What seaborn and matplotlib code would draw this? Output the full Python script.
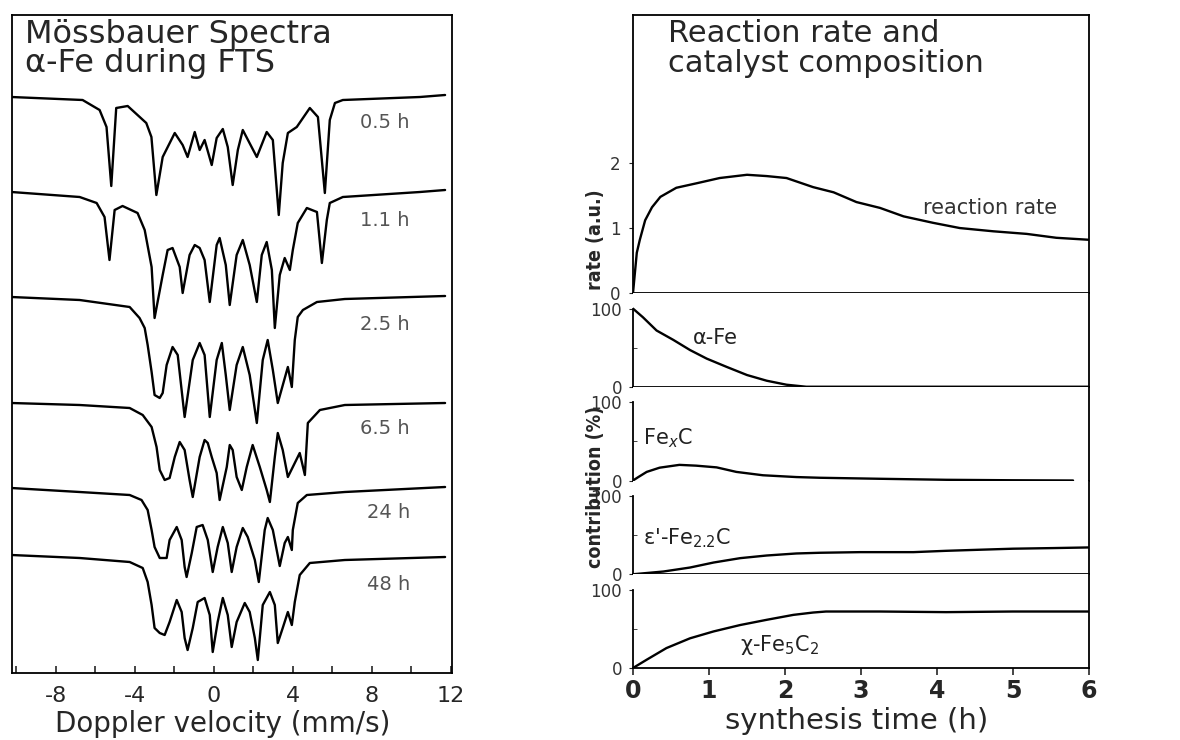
import matplotlib
matplotlib.use("Agg")
import matplotlib.pyplot as plt
import seaborn as sns
from matplotlib import font_manager
from matplotlib.ticker import FixedLocator

sns.set_style("ticks")
plt.rcParams["font.family"] = ["DejaVu Sans"]

# ---------------- Mössbauer spectra (velocity mm/s, transmission a.u. incl. offset)
spec_05h = [(-10.23, 576), (-6.63, 573), (-5.77, 563), (-5.42, 546), (-5.18, 487), (-4.93, 565),
            (-4.35, 567), (-3.41, 550), (-3.15, 536), (-2.90, 478), (-2.58, 516), (-1.97, 540),
            (-1.57, 528), (-1.32, 516), (-0.96, 541), (-0.71, 523), (-0.46, 533), (-0.10, 508),
            (0.15, 535), (0.46, 544), (0.71, 526), (0.96, 488), (1.22, 523), (1.47, 543),
            (2.18, 516), (2.68, 541), (2.99, 533), (3.29, 458), (3.49, 510), (3.75, 540),
            (4.20, 546), (4.86, 565), (5.27, 556), (5.62, 480), (5.87, 553), (6.13, 570),
            (6.53, 573), (10.43, 576), (11.70, 578)]
spec_11h = [(-10.23, 481), (-6.78, 476), (-5.92, 470), (-5.52, 456), (-5.27, 413), (-5.01, 463),
            (-4.61, 467), (-3.85, 460), (-3.49, 443), (-3.14, 406), (-2.99, 355), (-2.58, 398),
            (-2.33, 423), (-2.08, 425), (-1.72, 406), (-1.57, 380), (-1.22, 418), (-0.96, 428),
            (-0.71, 425), (-0.46, 413), (-0.20, 371), (0.15, 428), (0.30, 435), (0.61, 408),
            (0.81, 368), (1.16, 418), (1.47, 433), (1.82, 408), (2.18, 371), (2.43, 418),
            (2.68, 431), (2.94, 403), (3.09, 345), (3.34, 398), (3.59, 415), (3.85, 403),
            (4.00, 423), (4.25, 450), (4.71, 465), (5.22, 461), (5.47, 410), (5.72, 453),
            (5.87, 470), (6.53, 476), (10.43, 481), (11.70, 483)]
spec_25h = [(-10.23, 376), (-6.78, 373), (-4.25, 366), (-3.75, 355), (-3.49, 345), (-3.34, 328),
            (-3.14, 301), (-2.99, 278), (-2.73, 275), (-2.58, 280), (-2.38, 308), (-2.08, 326),
            (-1.82, 318), (-1.47, 256), (-1.06, 313), (-0.71, 330), (-0.46, 318), (-0.20, 256),
            (0.15, 313), (0.41, 330), (0.61, 298), (0.81, 263), (1.16, 308), (1.47, 326),
            (1.82, 298), (2.18, 250), (2.48, 313), (2.73, 333), (2.99, 303), (3.24, 270),
            (3.75, 306), (3.95, 286), (4.10, 333), (4.25, 356), (4.51, 363), (5.22, 371),
            (6.63, 374), (11.70, 377)]
spec_65h = [(-10.23, 270), (-6.78, 268), (-4.25, 265), (-3.59, 258), (-3.14, 246), (-2.89, 226),
            (-2.73, 203), (-2.48, 193), (-2.23, 195), (-1.97, 216), (-1.72, 231), (-1.47, 223),
            (-1.22, 193), (-1.06, 176), (-0.71, 216), (-0.46, 233), (-0.30, 230), (-0.10, 216),
            (0.15, 200), (0.30, 173), (0.66, 206), (0.81, 228), (0.96, 223), (1.16, 196),
            (1.42, 183), (1.67, 206), (1.97, 228), (2.33, 206), (2.68, 183), (2.84, 171),
            (3.09, 216), (3.24, 240), (3.49, 223), (3.75, 196), (4.00, 206), (4.35, 220),
            (4.61, 198), (4.76, 250), (5.37, 263), (6.63, 268), (11.70, 270)]
spec_24h = [(-10.23, 185), (-6.78, 181), (-4.25, 178), (-3.65, 173), (-3.34, 163), (-3.14, 143),
            (-2.99, 126), (-2.73, 115), (-2.38, 115), (-2.23, 133), (-1.87, 146), (-1.62, 133),
            (-1.47, 106), (-1.37, 96), (-1.11, 120), (-0.86, 146), (-0.56, 148), (-0.30, 133),
            (-0.05, 101), (0.20, 126), (0.46, 146), (0.71, 130), (0.91, 101), (1.16, 126),
            (1.47, 145), (1.72, 136), (2.08, 113), (2.28, 91), (2.58, 143), (2.73, 155),
            (2.99, 143), (3.34, 107), (3.59, 130), (3.75, 136), (3.95, 123), (4.00, 143),
            (4.25, 170), (4.71, 178), (6.63, 181), (11.70, 186)]
spec_48h = [(-10.23, 118), (-6.78, 115), (-4.25, 111), (-3.59, 105), (-3.34, 91), (-3.14, 68),
            (-2.99, 45), (-2.73, 40), (-2.48, 38), (-2.23, 51), (-1.87, 73), (-1.62, 61),
            (-1.47, 35), (-1.32, 23), (-1.06, 45), (-0.81, 71), (-0.46, 75), (-0.20, 58),
            (-0.05, 21), (0.20, 51), (0.46, 75), (0.71, 58), (0.91, 26), (1.16, 51),
            (1.57, 70), (1.82, 61), (2.08, 35), (2.23, 13), (2.48, 68), (2.84, 81),
            (3.09, 68), (3.24, 30), (3.49, 45), (3.75, 61), (3.95, 48), (4.10, 71),
            (4.35, 98), (4.86, 110), (6.63, 113), (11.70, 116)]
spectra = [spec_05h, spec_11h, spec_25h, spec_65h, spec_24h, spec_48h]
spec_labels = ["0.5 h", "1.1 h", "2.5 h", "6.5 h", "24 h", "48 h"]
spec_label_y = [551, 453, 349, 245, 160, 88]
vel_ticks = [-8, -4, 0, 4, 8, 12]

# ---------------- Reaction rate and composition vs synthesis time (h)
rate_t = [0, 0.05, 0.09, 0.16, 0.25, 0.36, 0.57, 0.84, 1.14, 1.50, 1.76, 2.02, 2.37, 2.64,
          2.94, 3.25, 3.56, 3.95, 4.30, 4.74, 5.18, 5.57, 5.99]
rate_v = [0, 0.62, 0.82, 1.12, 1.32, 1.48, 1.62, 1.69, 1.77, 1.82, 1.80, 1.77, 1.63, 1.55,
          1.40, 1.31, 1.18, 1.08, 1.00, 0.95, 0.91, 0.85, 0.82]
afe_t = [0, 0.13, 0.31, 0.53, 0.75, 0.97, 1.23, 1.50, 1.76, 2.02, 2.28, 6.0]
afe_v = [100, 89, 72, 60, 47, 36, 25.5, 15, 7.7, 2.6, 0, 0]
fexc_t = [0, 0.07, 0.18, 0.35, 0.61, 0.83, 1.10, 1.36, 1.71, 2.15, 2.46, 3.25, 4.12, 5.0, 5.79]
fexc_v = [0, 4.4, 11, 16.4, 20, 19, 16.8, 11, 6.7, 4.4, 3.5, 2.2, 0.9, 0.3, 0]
eps_t = [0, 0.40, 0.75, 1.06, 1.41, 1.76, 2.15, 2.46, 2.99, 3.69, 4.12, 4.57, 5.0, 5.53, 5.99]
eps_v = [0, 3.5, 8.6, 15, 20.6, 24, 26.6, 27.5, 28.3, 28.3, 30, 31.4, 32.7, 33.5, 34.3]
chi_t = [0, 0.18, 0.44, 0.75, 1.06, 1.41, 1.76, 2.11, 2.37, 2.54, 3.25, 4.12, 5.0, 5.99]
chi_v = [0, 10.6, 25.5, 38, 46.8, 55, 61.7, 68, 71, 72.3, 72.3, 71.5, 72.3, 72.3]
time_ticks = [0, 1, 2, 3, 4, 5, 6]
comp_series = [(afe_t, afe_v, r"α-Fe", 0.79, 63),
               (fexc_t, fexc_v, r"Fe$_x$C", 0.13, 54),
               (eps_t, eps_v, r"ε'-Fe$_{2.2}$C", 0.13, 46),
               (chi_t, chi_v, r"χ-Fe$_5$C$_2$", 1.41, 30)]

# ---------------- figure
W, H = 1180, 740
fig = plt.figure(figsize=(W / 100, H / 100), dpi=100)
LW = 1.7
SP = 1.3

# Left panel
axL = fig.add_axes([12 / W, 1 - 673 / H, 440 / W, 658 / H])
for spec, lab, ly in zip(spectra, spec_labels, spec_label_y):
    xs = [p[0] for p in spec]
    ys = [p[1] for p in spec]
    sns.lineplot(x=xs, y=ys, ax=axL, color="black", lw=LW, sort=False, estimator=None)
    axL.text(9.92, ly, lab, ha="right", va="center", fontsize=14, color="#555555")
axL.set_xlim(-10.2, 12.05)
axL.set_ylim(0, 658)
axL.set_yticks([])
axL.set_xticks(vel_ticks)
axL.set_xticklabels([str(t) for t in vel_ticks])
axL.xaxis.set_minor_locator(FixedLocator(list(range(-10, 13, 2))))
axL.tick_params(axis="x", which="both", direction="in", length=5, width=1.2,
                labelsize=16, pad=9, top=False)
for s in axL.spines.values():
    s.set_visible(True)
    s.set_linewidth(SP)
    s.set_color("black")
axL.text(13 / 440, (673 - 43) / 658, "Mössbauer Spectra", transform=axL.transAxes,
         fontsize=23, va="baseline", ha="left")
axL.text(13 / 440, (673 - 72) / 658, "α-Fe during FTS", transform=axL.transAxes,
         fontsize=23, va="baseline", ha="left")
fig.text(223 / W, 1 - 724 / H, "Doppler velocity (mm/s)", ha="center", va="center", fontsize=20)

# Right: rate panel
X0, XW = 633, 456
axR = fig.add_axes([X0 / W, 1 - 293 / H, XW / W, 278 / H])
sns.lineplot(x=rate_t, y=rate_v, ax=axR, color="black", lw=LW, sort=False, estimator=None)
axR.set_xlim(0, 6)
axR.set_ylim(0, 4.28)
axR.set_yticks([0, 1, 2])
axR.set_yticklabels(["0", "1", "2"])
axR.tick_params(axis="y", direction="out", length=3, labelsize=12, pad=6, labelcolor="#333333")
axR.tick_params(axis="x", bottom=False, labelbottom=False)
for s in axR.spines.values():
    s.set_visible(True)
    s.set_linewidth(SP)
    s.set_color("black")
axR.text(3.82, 1.31, "reaction rate", fontsize=15, va="center", ha="left", color="#333333")
axR.text(35 / XW, (293 - 42) / 278, "Reaction rate and", transform=axR.transAxes,
         fontsize=22, va="baseline", ha="left")
axR.text(35 / XW, (293 - 72) / 278, "catalyst composition", transform=axR.transAxes,
         fontsize=22, va="baseline", ha="left")

# Right: composition sub-panels
PH = 93.75
for i, (tt, vv, lab, lx, ly) in enumerate(comp_series):
    top = 293 + i * PH
    ax = fig.add_axes([X0 / W, 1 - (top + PH) / H, XW / W, PH / H])
    sns.lineplot(x=tt, y=vv, ax=ax, color="black", lw=LW, sort=False, estimator=None)
    ax.set_xlim(0, 6)
    ax.set_ylim(0, 120)
    ax.set_yticks([0, 100])
    ax.set_yticklabels(["0", "100"])
    ax.yaxis.set_minor_locator(FixedLocator([50]))
    ax.tick_params(axis="y", which="major", direction="out", length=3, labelsize=12, pad=5,
                   labelcolor="#333333")
    ax.tick_params(axis="y", which="minor", direction="in", length=3)
    ax.spines["top"].set_visible(False)
    ax.spines["left"].set_bounds(0, 100)
    for s in ax.spines.values():
        s.set_linewidth(SP)
        s.set_color("black")
    ax.spines["right"].set_visible(True)
    if i == 1:
        ax.spines["bottom"].set_visible(False)
    ax.text(lx, ly, lab, fontsize=15, va="center", ha="left", color="#222222")
    if i < 3:
        ax.tick_params(axis="x", bottom=False, labelbottom=False)
    else:
        ax.set_xticks(time_ticks)
        ax.set_xticklabels([str(t) for t in time_ticks], fontweight="bold")
        ax.tick_params(axis="x", direction="out", length=5, width=1.2, labelsize=17, pad=3)
    ax.set_xlabel("")
    ax.set_ylabel("")

fig.text(857 / W, 1 - 721 / H, "synthesis time (h)", ha="center", va="center", fontsize=21)

names = {f.name for f in font_manager.fontManager.ttflist}
if "Liberation Sans Narrow" in names:
    yl = dict(family="Liberation Sans Narrow", fontweight="bold", fontsize=17)
else:
    yl = dict(family="DejaVu Sans", fontstretch="condensed", fontweight="bold", fontsize=14)
fig.text(596 / W, 1 - 240 / H, "rate (a.u.)", rotation=90, ha="center", va="center", **yl)
fig.text(596 / W, 1 - 487 / H, "contribution (%)", rotation=90, ha="center", va="center", **yl)

fig.savefig("out.png", dpi=100)
